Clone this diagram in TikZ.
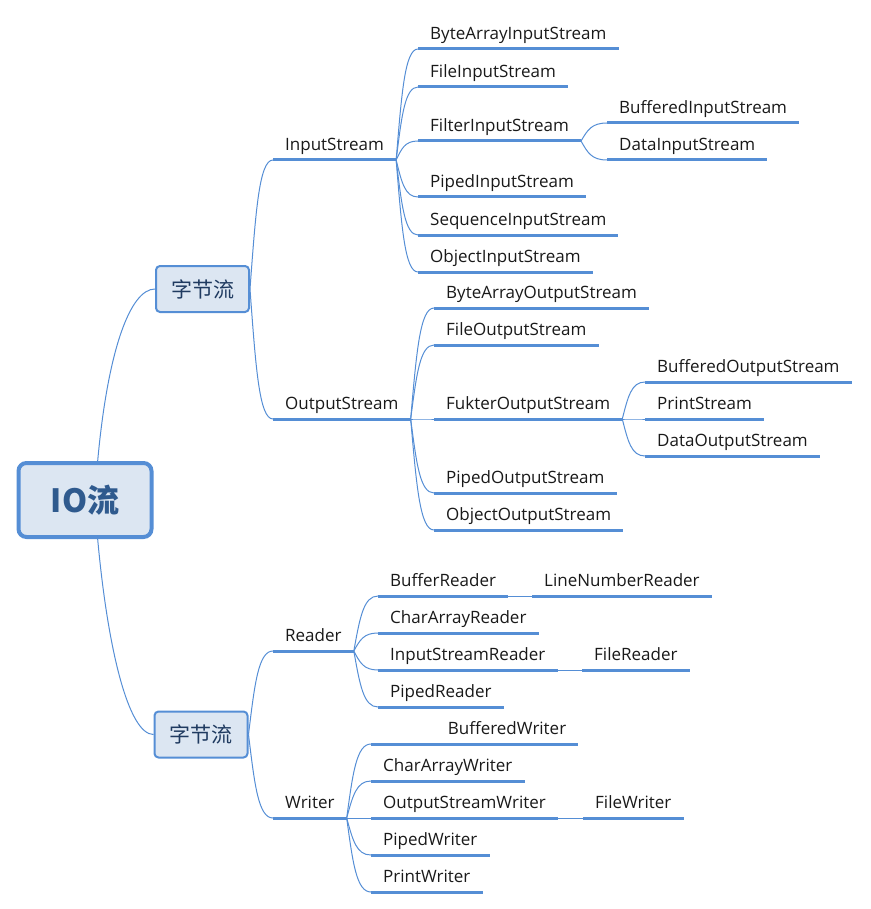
\documentclass[tikz,border=0pt]{standalone}
\usepackage{fontspec}
\setmainfont{Open Sans}
\newfontfamily\cjk{Noto Sans CJK SC}
\usetikzlibrary{calc}
\definecolor{mapblue}{HTML}{558ED5}
\definecolor{mapfill}{HTML}{DCE6F2}
\definecolor{rootink}{HTML}{2F5A8E}
\definecolor{boxink}{HTML}{1F3A60}
\begin{document}
\begin{tikzpicture}[x=1pt,y=-1pt,
        link/.style={draw=mapblue,line width=1pt},
        uline/.style={draw=mapblue,line width=3pt},
        fan/.style={link,to path={let \p1=(\tikztostart),\p2=(\tikztotarget) in
            .. controls ({\x1+0.25*(\x2-\x1)},{\y1+0.6*(\y2-\y1)}) and ({\x1+0.4*(\x2-\x1)},\y2) .. (\tikztotarget)}},
        cat/.style={draw=mapblue,fill=mapfill,line width=2pt,rounded corners=4pt,
            minimum width=93pt,minimum height=46pt,text=boxink,font=\cjk\fontsize{21}{24}\selectfont},
        leaf/.style={anchor=south west,inner xsep=12pt,inner ysep=0pt,text height=13pt,text depth=9.5pt,
            text=black!90,font=\fontsize{17}{20}\selectfont,
            append after command={(\tikzlastnode.south west) edge[uline] (\tikzlastnode.south east)}}]
    \useasboundingbox (0,0) rectangle (870,909);

    \node[draw=mapblue,fill=mapfill,line width=4pt,rounded corners=8pt,minimum width=133pt,
        minimum height=74pt,text=rootink,font=\cjk\bfseries\fontsize{32}{36}\selectfont] (io) at (85,500) {IO流};
    \node[cat] (bs1) at (202.5,289) {字节流};
    \node[cat] (bs2) at (201,734.5) {字节流};

    \node[leaf] (is) at (273,160) {InputStream};
    \node[leaf] (os) at (273,419) {OutputStream};
    \node[leaf] (bais) at (418,49) {ByteArrayInputStream};
    \node[leaf] (fis) at (418,87) {FileInputStream};
    \node[leaf] (filis) at (418,141) {FilterInputStream};
    \node[leaf] (pis) at (418,197) {PipedInputStream};
    \node[leaf] (sis) at (418,235) {SequenceInputStream};
    \node[leaf] (ois) at (418,272) {ObjectInputStream};
    \node[leaf] (bis) at (607,123) {BufferedInputStream};
    \node[leaf] (dis) at (607,160) {DataInputStream};
    \node[leaf] (baos) at (434,308) {ByteArrayOutputStream};
    \node[leaf] (fos) at (434,345) {FileOutputStream};
    \node[leaf] (fkos) at (434,419) {FukterOutputStream};
    \node[leaf] (pos) at (434,493) {PipedOutputStream};
    \node[leaf] (oos) at (434,530) {ObjectOutputStream};
    \node[leaf] (bos) at (645,382) {BufferedOutputStream};
    \node[leaf] (ps) at (645,419) {PrintStream};
    \node[leaf] (dos) at (645,456) {DataOutputStream};

    \node[leaf] (rd) at (273,651) {Reader};
    \node[leaf] (wr) at (273,818) {Writer};
    \node[leaf] (br) at (378,596) {BufferReader};
    \node[leaf] (lnr) at (532,596) {LineNumberReader};
    \node[leaf] (car) at (378,633) {CharArrayReader};
    \node[leaf] (isr) at (378,670) {InputStreamReader};
    \node[leaf] (fr) at (582,670) {FileReader};
    \node[leaf] (pr) at (378,707) {PipedReader};
    \node[leaf,text width=183pt,align=right] (bw) at (371,744) {BufferedWriter};
    \node[leaf] (caw) at (371,781) {CharArrayWriter};
    \node[leaf] (osw) at (371,818) {OutputStreamWriter};
    \node[leaf] (fw) at (583,818) {FileWriter};
    \node[leaf] (pw) at (371,855) {PipedWriter};
    \node[leaf] (prw) at (371,892) {PrintWriter};

    \draw[link] (io.72) .. controls +(10,-110) and +(-25,0) .. (bs1.west);
    \draw[link] (io.-72) .. controls +(10,110) and +(-25,0) .. (bs2.west);

    \path (bs1.east) edge[fan] (is.south west) edge[fan] (os.south west);
    \path (bs2.east) edge[fan] (rd.south west) edge[fan] (wr.south west);

    \path (is.south east) edge[fan] (bais.south west) edge[fan] (fis.south west)
        edge[fan] (filis.south west) edge[fan] (pis.south west)
        edge[fan] (sis.south west) edge[fan] (ois.south west);
    \path (filis.south east) edge[fan] (bis.south west) edge[fan] (dis.south west);
    \path (os.south east) edge[fan] (baos.south west) edge[fan] (fos.south west)
        edge[fan] (fkos.south west) edge[fan] (pos.south west) edge[fan] (oos.south west);
    \path (fkos.south east) edge[fan] (bos.south west) edge[fan] (ps.south west)
        edge[fan] (dos.south west);

    \path (rd.south east) edge[fan] (br.south west) edge[fan] (car.south west)
        edge[fan] (isr.south west) edge[fan] (pr.south west);
    \path (wr.south east) edge[fan] (bw.south west) edge[fan] (caw.south west)
        edge[fan] (osw.south west) edge[fan] (pw.south west) edge[fan] (prw.south west);
    \path (br.south east) edge[link] (lnr.south west);
    \path (isr.south east) edge[link] (fr.south west);
    \path (osw.south east) edge[link] (fw.south west);
\end{tikzpicture}
\end{document}
